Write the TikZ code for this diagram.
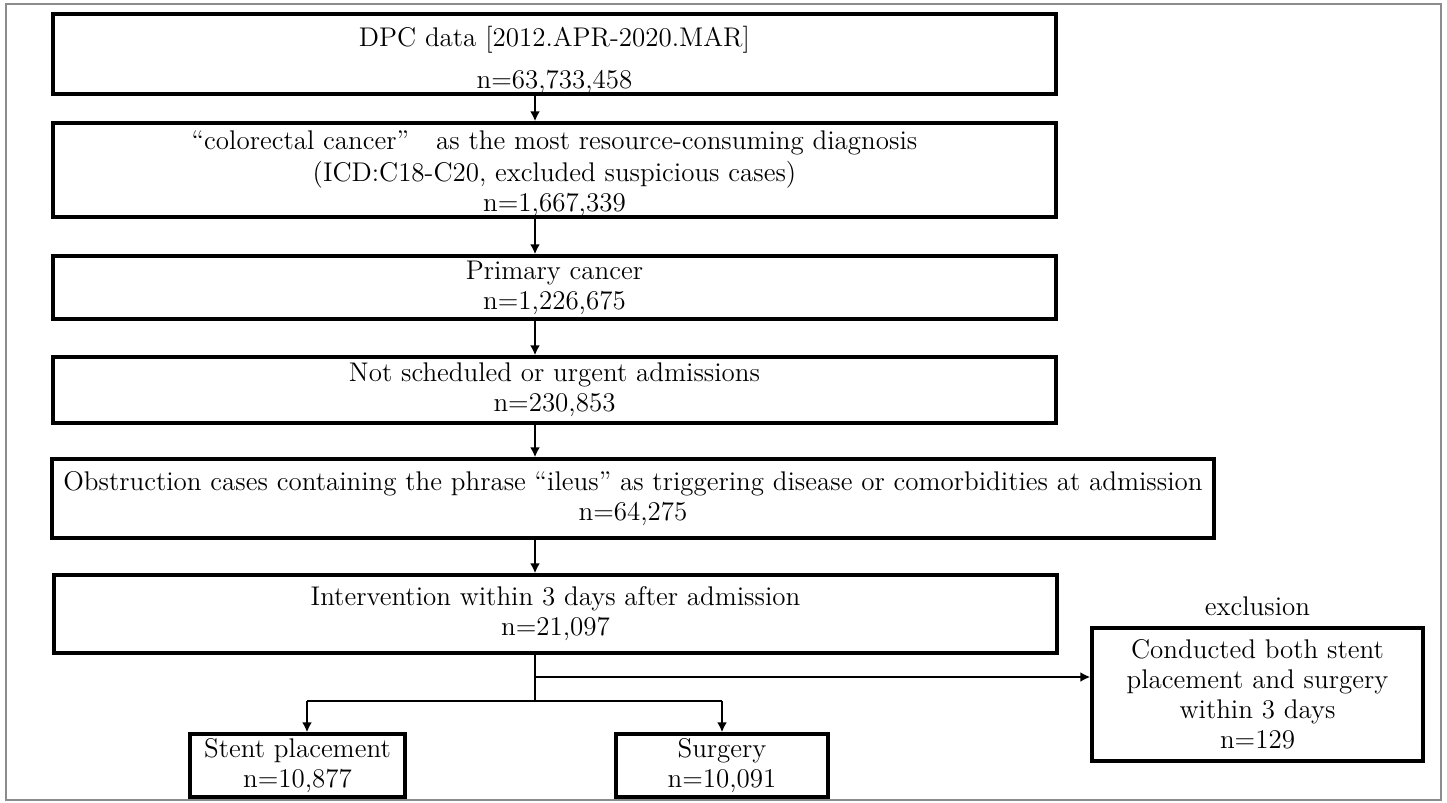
\documentclass[tikz,border=0pt]{standalone}
\usetikzlibrary{arrows.meta}
\newcommand{\fsz}{\fontsize{13.5}{15}\selectfont}
\begin{document}
\begin{tikzpicture}[x=0.5pt,y=-0.5pt,
  box/.style={draw=black, line width=1.7pt, inner sep=0pt, align=center, font=\fsz},
  lbl/.style={inner sep=0pt, align=center, font=\fsz},
  arr/.style={line width=1.3pt, -{Latex[length=5pt,width=5pt]}},
  ln/.style={line width=1.3pt}]
\useasboundingbox (0,0) rectangle (1447,803);
\draw[draw=black!45, line width=0.8pt] (6,4) rectangle (1441,800);

\node[box, minimum width=501.5pt, minimum height=37pt] (b1) at (554.5,54)
  {\rule{0pt}{16.5pt}DPC data [2012.APR-2020.MAR]\\[6pt] n=63,733,458};
\node[box, minimum width=501.5pt, minimum height=47pt] (b2) at (554.5,170)
  {\rule{0pt}{13pt}``colorectal cancer''\quad as the most resource-consuming diagnosis\\[1pt]
   (ICD:C18-C20, excluded suspicious cases)\\ n=1,667,339};
\node[box, minimum width=501.5pt, minimum height=31.5pt] (b3) at (554.5,287.5)
  {Primary cancer\\ n=1,226,675};
\node[box, minimum width=501.5pt, minimum height=33pt] (b4) at (554.5,390)
  {Not scheduled or urgent admissions\\ n=230,853};
\node[box, minimum width=581pt, minimum height=39.5pt] (b5) at (633,498.5)
  {Obstruction cases containing the phrase ``ileus'' as triggering disease or comorbidities at admission\\ n=64,275};
\node[box, minimum width=501.5pt, minimum height=39pt] (b6) at (555.5,614)
  {Intervention within 3 days after admission\\ n=21,097};
\node[box, minimum width=107.5pt, minimum height=31.5pt] (stent) at (297.5,765.5)
  {Stent placement\\ n=10,877};
\node[box, minimum width=106pt, minimum height=31.5pt] (surg) at (722,765.5)
  {Surgery\\ n=10,091};
\node[box, minimum width=165.5pt, minimum height=66.5pt] (excl) at (1257.5,694.5)
  {Conducted both stent\\ placement and surgery\\ within 3 days\\ n=129};
\node[lbl] (exlbl) at (1257.5,606) {exclusion};

\coordinate (ax) at (535,0);
\coordinate (sx) at (307,0);
\coordinate (split) at (535,701);
\coordinate (exy) at (535,677);

\draw[arr] (b1.south -| ax) -- (b2.north -| ax);
\draw[arr] (b2.south -| ax) -- (b3.north -| ax);
\draw[arr] (b3.south -| ax) -- (b4.north -| ax);
\draw[arr] (b4.south -| ax) -- (b5.north -| ax);
\draw[arr] (b5.south -| ax) -- (b6.north -| ax);
\draw[ln] (b6.south -| ax) -- (split);
\draw[ln] (split -| sx) -- (split -| surg.north);
\draw[arr] (split -| sx) -- (stent.north -| sx);
\draw[arr] (split -| surg.north) -- (surg.north);
\draw[arr] (exy) -- (exy -| excl.west);
\end{tikzpicture}
\end{document}
